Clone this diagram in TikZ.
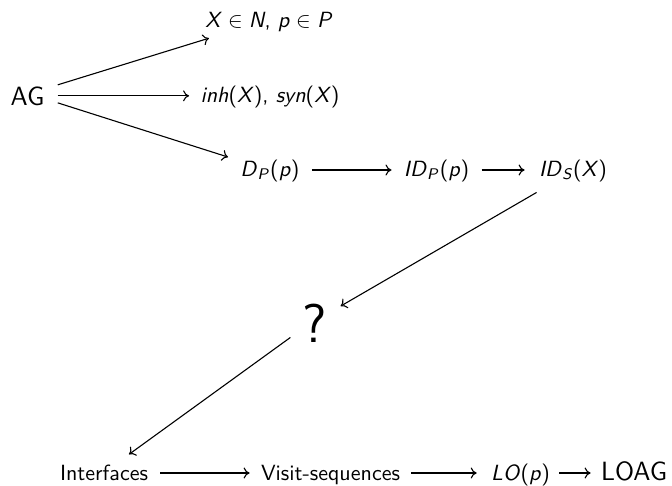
\documentclass[tikz,border=0pt]{standalone}
\usetikzlibrary{arrows.meta}
\newcommand\mv[1]{\textit{#1}}
\newcommand\msub[2]{\mv{#1}\textsubscript{\mv{#2}}}
\tikzset{
  lbl/.style={font=\sffamily\fontsize{10}{12}\selectfont, scale=2.2, inner sep=0pt, anchor=base},
  big/.style={font=\sffamily\large, scale=2.2, inner sep=0pt, anchor=base},
  huge/.style={font=\sffamily\Huge, scale=2.2, inner sep=0pt, anchor=base},
  arr/.style={-{To[length=6pt,width=11pt]}, line width=1.1pt}
}
\begin{document}
\begin{tikzpicture}[x=1pt,y=-1pt]
\useasboundingbox (0,0) rectangle (672,485);
\node[big] (ag) at (27.5,105) {AG};
\node[lbl] (top) at (269,27) {\mv{X}$\;\in\;$\mv{N}, \mv{p}$\;\in\;$\mv{P}};
\node[lbl] (inh) at (270,102) {\mv{inh}(\mv{X}), \mv{syn}(\mv{X})};
\node[lbl] (dp) at (270,176) {\msub{D}{P}(\mv{p})};
\node[lbl] (idp) at (436.5,176) {\msub{ID}{P}(\mv{p})};
\node[lbl] (ids) at (573,176) {\msub{ID}{S}(\mv{X})};
\node[huge] (q) at (315,342) {?};
\node[lbl] (int) at (104,480) {Interfaces};
\node[lbl] (vis) at (330.5,480) {Visit-sequences};
\node[lbl] (lo) at (520.5,480) {\mv{LO}(\mv{p})};
\node[big] (loag) at (634,480) {LOAG};
% from AG
\draw[arr] ([shift={(13,-11)}]ag.east) -- ([shift={(4,6.5)}]top.south west);
\draw[arr, shorten <=13pt, shorten >=11pt] (ag.east) -- (ag.east -| inh.west);
\draw[arr] ([shift={(13,7)}]ag.east) -- ([shift={(-12,-2)}]dp.north west);
% middle row
\draw[arr, shorten <=12pt, shorten >=12pt] ([yshift=6pt]dp.base east) -- ([yshift=6pt]idp.base west);
\draw[arr, shorten <=12pt, shorten >=14pt] ([yshift=6pt]idp.base east) -- ([yshift=6pt]ids.base west);
% diagonals
\draw[arr] ([shift={(-2,10.5)}]ids.south west) -- ([shift={(13,3)}]q.north east);
\draw[arr] ([shift={(-12,-5)}]q.south west) -- ([shift={(25,-9.7)}]int.north);
% bottom row
\draw[arr, shorten <=12pt, shorten >=11pt] ([yshift=7pt]int.base east) -- ([yshift=7pt]vis.base west);
\draw[arr, shorten <=11pt, shorten >=14pt] ([yshift=7pt]vis.base east) -- ([yshift=7pt]lo.base west);
\draw[arr, shorten <=9pt, shorten >=10pt] ([yshift=7pt]lo.base east) -- ([yshift=7pt]loag.base west);
\end{tikzpicture}
\end{document}
